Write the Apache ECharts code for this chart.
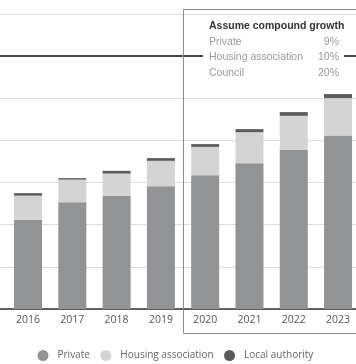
<!DOCTYPE html>
<html>
<head>
<meta charset="utf-8">
<script src="https://cdn.jsdelivr.net/npm/echarts@6/dist/echarts.min.js"></script>
<style>
  html, body { margin: 0; padding: 0; width: 356px; height: 364px; overflow: hidden; background: #fff; }
  #chart { position: absolute; left: -60px; top: 0; width: 440px; height: 364px; }
</style>
</head>
<body>
<div id="chart"></div>
<script>
// ---- data (thousands of homes) ----
const years = ['2016', '2017', '2018', '2019', '2020', '2021', '2022', '2023'];
const privateHomes = [105.7, 126.7, 134.2, 145.7, 158.8, 173.0, 188.5, 205.8];
const housingAssociation = [28.8, 26.8, 26.5, 30.1, 33.6, 36.8, 40.7, 44.4];
const localAuthority = [2.9, 1.7, 3.2, 3.2, 3.2, 3.6, 4.4, 4.8];
const targetLevel = 300;
const growthLabels = ['Private', 'Housing association', 'Council'];
const growthRates = ['9%', '10%', '20%'];
const annotationTitle = 'Assume compound growth';

// ---- chart ----
const OFF = 60; // container offset (page x = container x - OFF)
const chart = echarts.init(document.getElementById('chart'), null, { renderer: 'canvas' });
const cats = [''].concat(years);
const pad = arr => [null].concat(arr);

const graphics = [
  { type: 'rect', z: 100, silent: true,
    shape: { x: 183.5 + OFF, y: 9.5, width: 220, height: 324 },
    style: { fill: 'none', stroke: '#8c8c8c', lineWidth: 1 } },
  { type: 'rect', z: 101, silent: true,
    shape: { x: 203 + OFF, y: 18, width: 141, height: 62 },
    style: { fill: '#ffffff' } },
  { type: 'text', z: 102, silent: true,
    style: { text: annotationTitle, x: 209 + OFF, y: 26, align: 'left', verticalAlign: 'middle',
             font: 'bold 10.5px "Liberation Sans", Arial, sans-serif', fill: '#333333' } }
];
const rowY = [41.7, 57.3, 73];
growthLabels.forEach((lab, i) => {
  graphics.push({ type: 'text', z: 102, silent: true,
    style: { text: lab, x: 209 + OFF, y: rowY[i], align: 'left', verticalAlign: 'middle',
             font: '10.5px "Liberation Sans", Arial, sans-serif', fill: '#9a9a9a' } });
  graphics.push({ type: 'text', z: 102, silent: true,
    style: { text: growthRates[i], x: 339 + OFF, y: rowY[i], align: 'right', verticalAlign: 'middle',
             font: '10.5px "Liberation Sans", Arial, sans-serif', fill: '#9a9a9a' } });
});

const option = {
  animation: false,
  backgroundColor: '#ffffff',
  grid: { left: 21.6, right: 19.8, top: 14, bottom: 55, containLabel: false },
  legend: {
    data: ['Private', 'Housing association', 'Local authority'],
    left: 97.5, top: 350, padding: 0,
    icon: 'circle', itemWidth: 19, itemHeight: 11, itemGap: 10.5,
    textStyle: { fontFamily: '"Open Sans", sans-serif', fontSize: 10, color: '#666666' }
  },
  xAxis: {
    type: 'category', data: cats,
    axisLine: { show: true, lineStyle: { color: '#333333', width: 1.5 } },
    axisTick: { show: false },
    axisLabel: { margin: 6, fontFamily: '"Open Sans", sans-serif', fontSize: 10.5, color: '#555555' }
  },
  yAxis: {
    type: 'value', min: 0, max: 350, interval: 50,
    axisLine: { show: false }, axisTick: { show: false }, axisLabel: { show: false },
    splitLine: { show: true, lineStyle: { color: '#dddddd', width: 1 } }
  },
  series: [
    { name: 'Private', type: 'bar', stack: 'homes', barWidth: 28, data: pad(privateHomes),
      itemStyle: { color: '#929395' },
      markLine: { silent: true, symbol: ['none', 'none'], label: { show: false },
        lineStyle: { color: '#444444', width: 2, type: 'solid' },
        data: [{ yAxis: targetLevel }] } },
    { name: 'Housing association', type: 'bar', stack: 'homes', barWidth: 28, data: pad(housingAssociation),
      itemStyle: { color: '#d4d4d4' } },
    { name: 'Local authority', type: 'bar', stack: 'homes', barWidth: 28, data: pad(localAuthority),
      itemStyle: { color: '#5a5a5c' } }
  ],
  graphic: graphics
};
chart.setOption(option);
</script>
</body>
</html>
